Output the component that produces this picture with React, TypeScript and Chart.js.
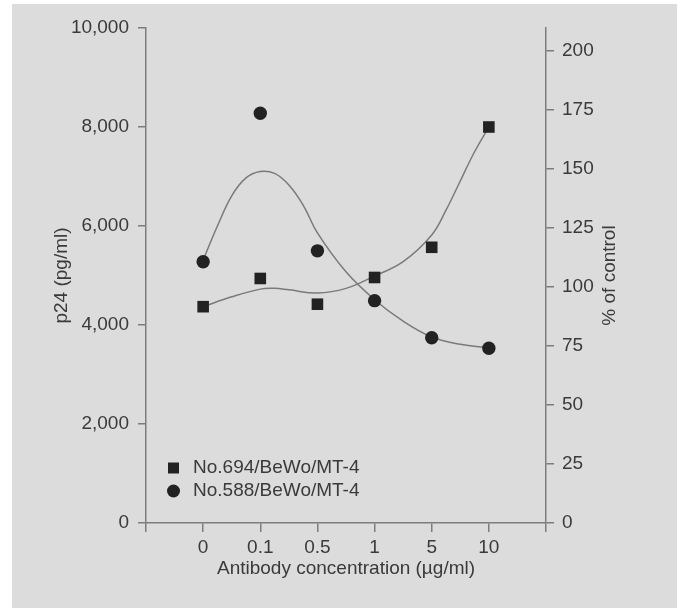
import React, { useEffect, useRef } from 'react';
import { Chart, registerables } from 'chart.js';

Chart.register(...registerables);

// ---- data ----
const concentrationLabels = ['0', '0.1', '0.5', '1', '5', '10'];
const seriesNames = ['No.694/BeWo/MT-4', 'No.588/BeWo/MT-4'];
// squares, p24 (pg/ml), left axis
const p24No694 = [4370, 4940, 4420, 4960, 5570, 8000];
// circles, % of control, right axis
const pctNo588 = [110.7, 173.6, 115.3, 94.2, 78.5, 74.0];
// fitted curves, at positions along the category axis (1 = "0", 6 = "10")
const fit694Positions = [1, 1.5, 2, 2.25, 2.5, 3, 3.5, 4, 4.5, 5, 5.25, 5.5, 5.75, 6];
const fitNo694 = [4370, 4570, 4725, 4740, 4710, 4645, 4740, 4990, 5280, 5820, 6320, 6910, 7500, 8000];
const fit588Positions = [1, 1.25, 1.5, 1.75, 2, 2.25, 2.5, 2.75, 3, 3.5, 4, 4.5, 5, 5.5, 6];
const fitNo588 = [111.4, 125.8, 138.6, 146.2, 148.9, 148.1, 143.2, 134.7, 122.9, 106.4, 94.6, 85.5, 78.8, 75.7, 74.2];
const leftTicks = [0, 2000, 4000, 6000, 8000, 10000];
const rightTicks = [0, 25, 50, 75, 100, 125, 150, 175, 200];

const xTitle = 'Antibody concentration (\u00b5g/ml)';
const leftTitle = 'p24 (pg/ml)';
const rightTitle = '% of control';

const FONT = '"Liberation Sans", Arial, Helvetica, sans-serif';
const TEXT = '#3a3a3a';
const AXIS = '#7c7c7c';
const MARK = '#222222';
const LINE = '#7a7a7a';

export default function App() {
  const ref = useRef<HTMLCanvasElement | null>(null);

  useEffect(() => {
    const canvas = ref.current;
    if (!canvas) return;

    const overlay = {
      id: 'overlay',
      afterDraw(chart: any) {
        const ctx = chart.ctx as CanvasRenderingContext2D;
        const area = chart.chartArea;
        const midY = (area.top + area.bottom) / 2;
        ctx.save();
        ctx.fillStyle = TEXT;
        ctx.font = `19px ${FONT}`;
        ctx.textAlign = 'center';
        ctx.textBaseline = 'middle';
        // x title
        ctx.fillText(xTitle, (area.left + area.right) / 2, 569);
        // left title
        ctx.save();
        ctx.translate(62, midY);
        ctx.rotate(-Math.PI / 2);
        ctx.fillText(leftTitle, 0, 0);
        ctx.restore();
        // right title
        ctx.save();
        ctx.translate(610, midY);
        ctx.rotate(-Math.PI / 2);
        ctx.fillText(rightTitle, 0, 0);
        ctx.restore();
        // legend
        const lx = 173.5;
        const rows = [468, 491];
        ctx.fillStyle = MARK;
        ctx.fillRect(lx - 5.5, rows[0] - 5.5, 11, 11);
        ctx.beginPath();
        ctx.arc(lx, rows[1], 6.5, 0, Math.PI * 2);
        ctx.fill();
        ctx.fillStyle = TEXT;
        ctx.textAlign = 'left';
        ctx.fillText(seriesNames[0], 193, rows[0]);
        ctx.fillText(seriesNames[1], 193, rows[1]);
        ctx.restore();
      },
    };

    const chart = new Chart(canvas, {
      type: 'scatter',
      data: {
        datasets: [
          {
            label: seriesNames[0],
            data: p24No694.map((v, i) => ({ x: i + 1, y: v })),
            yAxisID: 'y',
            pointStyle: 'rect',
            pointRadius: 8.2,
            backgroundColor: MARK,
            borderColor: MARK,
            borderWidth: 0,
            order: 0,
          },
          {
            label: seriesNames[1],
            data: pctNo588.map((v, i) => ({ x: i + 1, y: v })),
            yAxisID: 'y1',
            pointStyle: 'circle',
            pointRadius: 6.7,
            backgroundColor: MARK,
            borderColor: MARK,
            borderWidth: 0,
            order: 0,
          },
          {
            label: 'fit694',
            data: fit694Positions.map((x, i) => ({ x, y: fitNo694[i] })),
            yAxisID: 'y',
            showLine: true,
            pointRadius: 0,
            borderColor: LINE,
            borderWidth: 1.5,
            tension: 0.4,
            order: 1,
          },
          {
            label: 'fit588',
            data: fit588Positions.map((x, i) => ({ x, y: fitNo588[i] })),
            yAxisID: 'y1',
            showLine: true,
            pointRadius: 0,
            borderColor: LINE,
            borderWidth: 1.5,
            tension: 0.4,
            order: 1,
          },
        ],
      },
      options: {
        animation: false,
        responsive: false,
        devicePixelRatio: 1,
        layout: { padding: { top: 28, left: 0, right: 0, bottom: 0 } },
        plugins: {
          legend: { display: false },
          tooltip: { enabled: false },
          title: { display: false },
        },
        scales: {
          x: {
            type: 'linear',
            position: 'bottom',
            min: 0,
            max: 7,
            afterBuildTicks: (s: any) => {
              s.ticks = [0, 1, 2, 3, 4, 5, 6, 7].map((v) => ({ value: v }));
            },
            ticks: {
              callback: (v: any) => concentrationLabels[Number(v) - 1] ?? '',
              color: TEXT,
              font: { family: FONT, size: 19 },
              padding: 4,
              maxRotation: 0,
              autoSkip: false,
            },
            grid: { drawOnChartArea: false, drawTicks: true, tickLength: 9, color: AXIS, lineWidth: 1.5 },
            border: { display: true, color: AXIS, width: 1.5 },
            afterFit: (s: any) => {
              s.height = 85;
            },
          },
          y: {
            type: 'linear',
            position: 'left',
            min: 0,
            max: 10000,
            afterBuildTicks: (s: any) => {
              s.ticks = leftTicks.map((v) => ({ value: v }));
            },
            ticks: {
              callback: (v: any) => Number(v).toLocaleString('en-US'),
              color: TEXT,
              font: { family: FONT, size: 19 },
              padding: 9,
            },
            grid: { drawOnChartArea: false, drawTicks: true, tickLength: 8, color: AXIS, lineWidth: 1.5 },
            border: { display: true, color: AXIS, width: 1.5 },
            afterFit: (s: any) => {
              s.width = 146;
            },
          },
          y1: {
            type: 'linear',
            position: 'right',
            min: 0,
            max: 209.7,
            afterBuildTicks: (s: any) => {
              s.ticks = rightTicks.map((v) => ({ value: v }));
            },
            ticks: {
              callback: (v: any) => String(v),
              color: TEXT,
              font: { family: FONT, size: 19 },
              padding: 8,
            },
            grid: { drawOnChartArea: false, drawTicks: true, tickLength: 8, color: AXIS, lineWidth: 1.5 },
            border: { display: true, color: AXIS, width: 1.5 },
            afterFit: (s: any) => {
              s.width = 135;
            },
          },
        },
      },
      plugins: [overlay],
    } as any);

    return () => chart.destroy();
  }, []);

  return (
    <div style={{ position: 'fixed', left: 0, top: 0, width: 681, height: 608, background: '#ffffff', overflow: 'hidden' }}>
      <div style={{ position: 'absolute', left: 12, top: 4, width: 665, height: 604, background: '#dcdcdc' }} />
      <canvas ref={ref} width={681} height={608} style={{ position: 'absolute', left: 0, top: 0, width: 681, height: 608 }} />
    </div>
  );
}
